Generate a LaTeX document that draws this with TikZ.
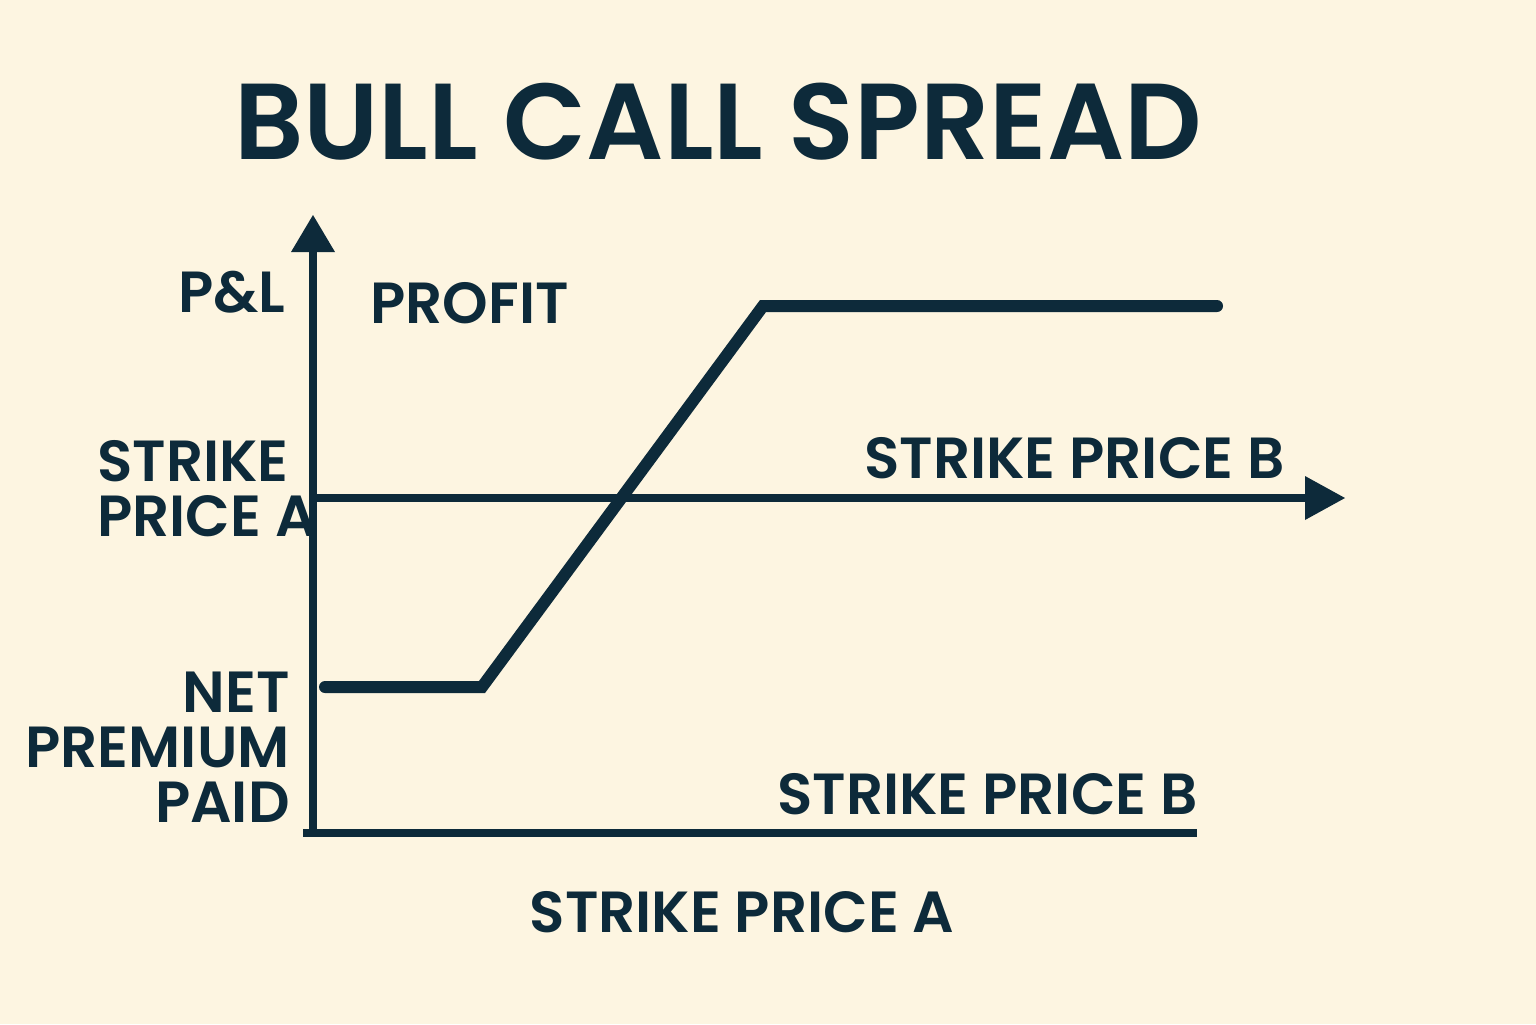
\documentclass[tikz,border=0pt]{standalone}
\usepackage{fontspec}
\setmainfont{Poppins}[BoldFont={* SemiBold}]
\definecolor{ink}{HTML}{0D2A3A}
\definecolor{bg}{HTML}{FDF5E1}
\begin{document}
\begin{tikzpicture}[x=0.5pt,y=-0.5pt,
  lbl/.style={text=ink,font=\fontsize{29}{27.5}\selectfont\bfseries,inner sep=0pt},
  axis/.style={draw=ink,line width=4pt},
  curve/.style={draw=ink,line width=6pt,line cap=round,line join=miter}]
\fill[bg] (0,0) rectangle (1536,1024);
\useasboundingbox (0,0) rectangle (1536,1024);
\node[lbl,font=\fontsize{54}{60}\selectfont\bfseries] (title) at (718,122) {BULL CALL SPREAD};
% axes
\coordinate (yb) at (313,835);
\coordinate (yt) at (313,250);
\coordinate (xl) at (313,498);
\coordinate (xr) at (1308,498);
\draw[axis] (yb) -- (313,245);
\fill[ink] (291,252) -- (313,215) -- (335,252) -- cycle;
\draw[axis] (xl) -- (xr);
\fill[ink] (1305,476) -- (1345,498) -- (1305,520) -- cycle;
\coordinate (bl) at (303,833);
\coordinate (br) at (1197,833);
\draw[axis] (bl) -- (br);
% profit line
\coordinate (p1) at (325,687);
\coordinate (p2) at (482,687);
\coordinate (p3) at (763,306);
\coordinate (p4) at (1217,306);
\draw[curve] (p1) -- (p2) -- (p3) -- (p4);
% labels
\node[lbl,anchor=east] (pl) at (286,292) {P\&L};
\node[lbl,anchor=west] (profit) at (370,303) {PROFIT};
\node[lbl,anchor=west,align=left] (spa) at (97,489) {STRIKE\\PRICE A};
\node[lbl,anchor=east] (spb1) at (1285,458) {STRIKE PRICE B};
\node[lbl,anchor=east,align=right] (net) at (290,747) {NET\\PREMIUM\\PAID};
\node[lbl,anchor=east] (spb2) at (1198,794) {STRIKE PRICE B};
\node[lbl] (spa2) at (742,912) {STRIKE PRICE A};
\end{tikzpicture}
\end{document}
